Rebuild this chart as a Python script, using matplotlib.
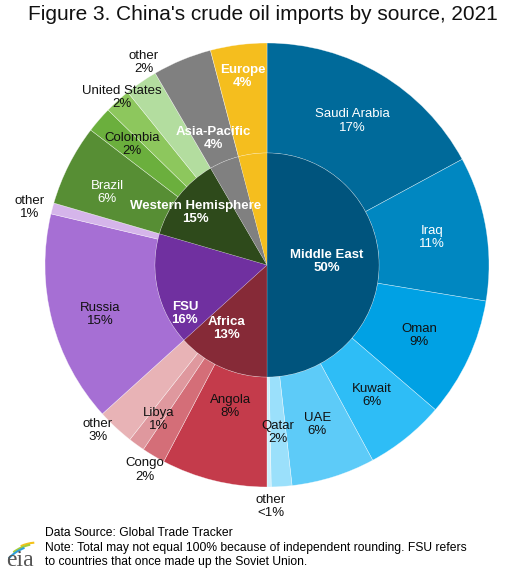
import matplotlib.pyplot as plt
import numpy as np
from matplotlib.patches import Arc

plt.rcParams['font.family'] = ['Liberation Sans', 'DejaVu Sans']

# inner ring: regions (share of imports, %)
regions = ["Middle East", "Africa", "FSU", "Western Hemisphere", "Asia-Pacific", "Europe"]
region_vals = [50.0, 13.3, 16.2, 12.1, 4.3, 4.1]
region_pct = ["50%", "13%", "16%", "15%", "4%", "4%"]
region_colors = ["#00547d", "#862a37", "#7030a0", "#2e4a1b", "#808080", "#f5be1e"]

# outer ring: sources
sources = ["Saudi Arabia", "Iraq", "Oman", "Kuwait", "UAE", "Qatar", "other",
           "Angola", "Congo", "Libya", "other",
           "Russia", "other",
           "Brazil", "Colombia", "United States", "other",
           "Asia-Pacific", "Europe"]
source_vals = [17.1, 10.5, 8.7, 5.8, 6.1, 1.5, 0.3,
               7.7, 1.7, 1.2, 2.7,
               15.4, 0.8,
               5.9, 1.9, 1.9, 2.4,
               4.3, 4.1]
source_pct = ["17%", "11%", "9%", "6%", "6%", "2%", "<1%",
              "8%", "2%", "1%", "3%",
              "15%", "1%",
              "6%", "2%", "2%", "2%",
              "4%", "4%"]
source_colors = ["#006a9a", "#0087c1", "#00a1e4", "#2ebdf6", "#5dcbf8", "#9be0fb", "#cdeffc",
                 "#c43b4b", "#d46e78", "#df989e", "#e8b3b6",
                 "#a66fd4", "#d5b5ea",
                 "#578e34", "#6baf3d", "#8dc75d", "#b3dd9f",
                 "#808080", "#f5be1e"]

# label placement: radius (in outer radius units) and angular shift (% of circle)
src_r = [0.755, 0.755, 0.755, 0.755, 0.755, 0.755, 1.09,
         0.66, 1.075, 0.85, 1.067,
         0.785, 1.1,
         0.79, 0.815, 1.0, 1.07,
         0.62, 0.856]
src_shift = [0, 0, 0, 0, 0, 0, -0.1,
             0.2, 0, -0.3, 0.7,
             -0.6, -0.3,
             -0.7, 0.2, 0.4, 0.9,
             -0.1, 0]
src_dark_text = [False, False, True, True, True, True, True,
                 True, True, True, True,
                 True, True,
                 False, True, True, True,
                 False, False]
src_bold = [False] * 17 + [True, True]
reg_r = [0.27, 0.34, 0.43, 0.40]
reg_shift = [-0.9, 2.4, -4.9, -0.4]

R_OUT = 1.0
R_IN = 112 / 222
CX, CY, SCALE = 267, 265, 222  # pie centre and outer radius in pixels


def px(x, y):
    return (x - CX) / SCALE, (CY - y) / SCALE


fig = plt.figure(figsize=(5.06, 5.76), dpi=100)
ax = fig.add_axes([0, 0, 1, 1])

ax.pie(source_vals, radius=R_OUT, startangle=90, counterclock=False,
       colors=source_colors,
       wedgeprops=dict(width=R_OUT - R_IN, edgecolor='#ffffff90', linewidth=0.4))
ax.pie(region_vals, radius=R_IN, startangle=90, counterclock=False,
       colors=region_colors,
       wedgeprops=dict(edgecolor='#ffffff60', linewidth=0.3))
ax.set_xlim(-CX / SCALE, (506 - CX) / SCALE)
ax.set_ylim(-(576 - CY) / SCALE, CY / SCALE)
ax.set_aspect('auto')
ax.axis('off')


def polar(frac, r):
    a = np.pi / 2 - 2 * np.pi * frac / 100
    return r * np.cos(a), r * np.sin(a)


cum = np.cumsum([0] + source_vals)
for i, name in enumerate(sources):
    mid = (cum[i] + cum[i + 1]) / 2 + src_shift[i]
    x, y = polar(mid, src_r[i])
    color = '#111111' if src_dark_text[i] else 'white'
    ax.text(x, y, f"{name}\n{source_pct[i]}", ha='center', va='center',
            fontsize=9.5, color=color, linespacing=1.12,
            fontweight='bold' if src_bold[i] else 'normal')

cum_r = np.cumsum([0] + region_vals)
for i in range(4):
    mid = (cum_r[i] + cum_r[i + 1]) / 2 + reg_shift[i]
    x, y = polar(mid, reg_r[i])
    ax.text(x, y, f"{regions[i]}\n{region_pct[i]}", ha='center', va='center',
            fontsize=9.5, color='white', fontweight='bold', linespacing=1.12)

fig.text(28 / 506, 1 - 15 / 576, "Figure 3. China's crude oil imports by source, 2021",
         ha='left', va='center', fontsize=15, color='#111111')

fig.text(45 / 506, 1 - 533 / 576, "Data Source: Global Trade Tracker",
         ha='left', va='center', fontsize=8.7, color='black')
fig.text(45 / 506, 1 - 555 / 576,
         "Note: Total may not equal 100% because of independent rounding. FSU refers\n"
         "to countries that once made up the Soviet Union.",
         ha='left', va='center', fontsize=8.7, color='black', linespacing=1.15)

# eia logo
x0, y0 = px(20, 566)
ax.text(x0, y0, "eia", ha='center', va='baseline', fontsize=17,
        family='Liberation Serif', color='#555555')
ac = px(38, 585)
for rad, t1, t2, c in [(42.5, 95, 114, '#f4c21a'), (41, 101, 127, '#a6cd3a'),
                       (39.5, 110, 138, '#2e9fd9')]:
    ax.add_patch(Arc(ac, 2 * rad / SCALE, 2 * rad / SCALE, theta1=t1, theta2=t2,
                     color=c, lw=1.5))

fig.savefig('out.png', dpi=100)
